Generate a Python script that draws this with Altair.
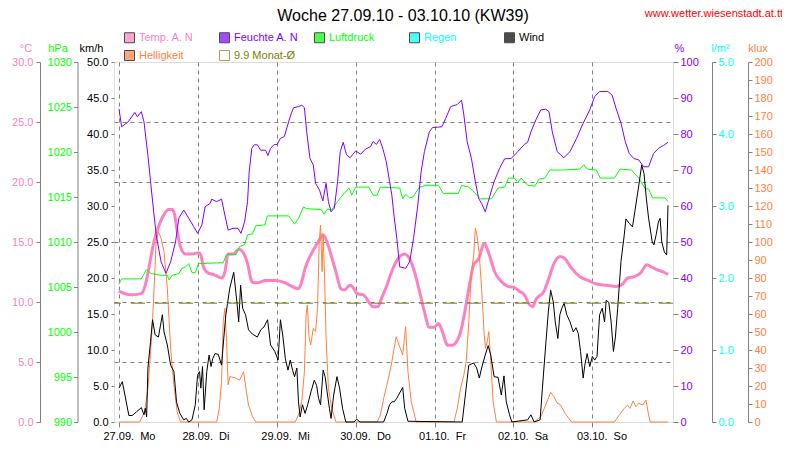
import altair as alt
import pandas as pd

FONT = "Liberation Sans"
GRID = "#808080"

# ---- data: (hours since 27.09.2010 00:00, value) ----
temp = [(0,10.9),(3.3,10.6),(6.8,10.7),(8.0,11.4),(8.8,12.4),(9.8,13.9),(10.8,15.2),(12.2,16.4),(13.7,17.3),(15.2,17.7),(16.2,17.7),(16.9,17.3),(17.7,15.9),(18.7,14.6),(20.2,14.0),(22.2,14.0),(24.2,14.1),(24.9,13.9),(25.7,12.9),(27.2,12.4),(28.7,12.3),(30.2,12.1),(31.2,12.0),(32.2,12.5),(33.2,14.0),(34.7,14.0),(36.5,14.4),(37.6,14.2),(39.1,13.2),(40.4,11.7),(41.1,11.6),(42.1,11.6),(44.6,11.8),(47.6,11.8),(50.6,11.6),(52.6,11.3),(54.6,11.1),(55.6,11.7),(56.6,12.8),(58.1,13.8),(59.5,14.5),(61.0,15.2),(62.0,15.6),(63.3,15.0),(64.5,13.9),(66.0,12.5),(67.5,11.1),(68.5,11.0),(70.3,11.4),(71.5,11.1),(72.3,10.7),(74.3,10.6),(76.0,10.0),(77.3,9.6),(78.7,9.6),(80.0,10.4),(81.5,11.4),(82.5,12.2),(84.0,13.2),(85.4,13.8),(86.9,14.0),(88.4,13.6),(89.9,12.5),(91.4,10.9),(92.9,9.2),(94.4,7.9),(95.9,7.9),(97.2,8.2),(98.4,7.5),(99.9,6.4),(101.4,6.4),(102.9,6.8),(103.9,7.5),(105.2,9.2),(106.4,11.1),(107.9,13.1),(109.4,13.6),(111.1,14.9),(112.3,14.2),(114.3,12.5),(116.3,11.7),(118.3,11.3),(120.3,11.2),(121.8,10.9),(123.3,10.6),(124.8,9.8),(125.8,9.6),(126.8,10.2),(129.3,10.9),(130.8,12.0),(132.3,13.2),(134.2,13.8),(135.7,13.6),(137.7,12.8),(140.2,12.1),(142.7,11.8),(145.2,11.5),(148.2,11.4),(151.2,11.3),(153.2,11.5),(154.7,12.0),(156.6,12.1),(158.6,12.4),(160.6,13.1),(162.1,12.9),(163.6,12.7),(165.6,12.5),(167,12.3)]

humidity = [(0,87),(0.8,82),(2.8,83.4),(4.8,86),(5.6,84.8),(6.8,86.2),(7.6,83.4),(8.8,74),(9.8,65),(11.3,52),(12.8,44.5),(14.3,41.3),(15.7,44.5),(17.2,50),(18.2,56.6),(19.7,58.9),(21.2,56.6),(22.7,54.3),(23.9,52.4),(25.2,54.7),(26.2,59.8),(27.7,60.7),(28.2,61.9),(29.7,61.2),(31.2,61.9),(32.2,57.5),(33.2,53.3),(34.7,53.8),(36.2,53.8),(37.1,52.4),(38.2,55.6),(39.1,61.2),(39.6,69.5),(40.4,76),(41.1,77),(42.1,77),(43.1,75.5),(44.6,75.5),(45.3,74),(46.1,76),(47.1,77),(48.1,77.1),(49.1,78.8),(50.3,79.3),(51.6,83.4),(52.4,85.7),(53.1,87.3),(54.6,87.6),(55.6,88),(56.4,87.3),(57.1,80.6),(58.1,73.2),(59.1,71.4),(59.8,66.3),(61.0,64.4),(62.0,61.4),(63.0,66.3),(63.7,61.2),(64.5,58.4),(65.5,59.4),(66.5,66.8),(67.3,75.1),(68.2,77.7),(69.2,74.2),(70.3,73.4),(72.0,75.3),(73.5,74.4),(75.0,75.8),(76.5,76.5),(77.3,77.9),(78.3,77.1),(79.3,78.5),(80.3,75.8),(81.3,72.3),(82.3,66.8),(83.0,63),(83.7,57),(84.5,51),(85.4,43.1),(87.2,42.7),(88.4,44.5),(89.6,51),(90.9,60.3),(91.9,69.5),(92.9,75.1),(94.4,80.6),(95.4,81.8),(98.2,82),(99.4,84.4),(100.9,87.6),(102.9,88.2),(104.2,89.4),(104.9,85.3),(105.9,77.9),(107.2,73.2),(108.4,66.8),(109.4,62.1),(110.3,60.7),(111.4,58.4),(112.3,61.2),(114.1,66.8),(115.8,70.5),(117.3,73.1),(119.3,73.2),(121.3,75.1),(123.3,77.1),(124.3,77.7),(125.3,80.6),(126.8,83.9),(128.3,86.7),(129.8,86.9),(130.8,86.2),(131.8,80.6),(133.3,75.1),(135.3,73.4),(137.2,75.1),(139.2,78.8),(141.2,83),(143.2,86.7),(144.7,90.4),(146.2,91.8),(148.7,91.8),(150.0,90.8),(151.2,87.1),(152.7,83),(154.0,77.9),(155.2,74.6),(156.6,73.2),(158.1,72.8),(159.6,70.9),(161.1,70.9),(162.6,74.6),(164.1,76),(165.6,76.8),(167,77.7)]

pressure = [(0,1005.3),(0.8,1005.9),(6.8,1005.9),(8.3,1006.9),(9.8,1006.5),(12.8,1006.3),(14.7,1006.3),(15.2,1005.8),(16.2,1006.3),(18.2,1006.5),(19.2,1007.1),(20.2,1007.2),(21.2,1007.6),(22.2,1006.6),(23.2,1006.6),(24.2,1007.6),(31.7,1007.7),(32.7,1008.6),(35.6,1008.6),(36.7,1009.5),(38.2,1009.7),(39.1,1010.8),(40.6,1010.9),(41.6,1011.8),(44.4,1011.9),(45.1,1012.9),(51.6,1012.9),(53.4,1012.0),(54.6,1012.6),(56.1,1013.9),(57.1,1013.7),(61.5,1013.6),(62.4,1013.1),(63.5,1013.7),(64.5,1013.5),(66.5,1014.5),(67.3,1014.9),(68.5,1015.4),(70.0,1016.0),(70.8,1015.2),(72.0,1016.1),(76.0,1016.1),(77.3,1015.2),(78.5,1015.2),(79.5,1016.1),(85.4,1016.0),(86.3,1014.8),(87.2,1015.3),(88.4,1014.9),(89.4,1015.0),(91.4,1016.1),(93.4,1016.3),(97.2,1016.3),(98.6,1015.4),(103.2,1015.4),(104.2,1016.3),(106.4,1016.1),(107.6,1015.7),(109.9,1014.8),(113.3,1014.8),(115.3,1016.0),(117.3,1016.1),(118.5,1017.1),(120.3,1017.1),(121.3,1016.6),(122.3,1017.1),(124.3,1016.3),(126.5,1016.2),(127.8,1017.0),(129.5,1017.1),(131.1,1018.0),(135.3,1018.0),(140.2,1018.1),(141.4,1018.6),(142.4,1018.1),(145.2,1018.0),(146.4,1017.1),(150.7,1017.1),(152.4,1018.1),(155.9,1018.0),(158.1,1017.1),(160.1,1015.9),(161.1,1015.9),(162.3,1014.9),(166.1,1014.9),(167,1014.5)]

wind = [(0,4.7),(1.0,5.6),(1.8,3.75),(3.0,0.9),(4.0,0.9),(5.3,1.4),(6.8,2.0),(7.6,1.0),(8.0,1.9),(8.4,0.7),(8.8,7.5),(9.6,11.2),(10.2,14.2),(11.0,12.1),(12.0,11.8),(12.8,13.9),(13.2,14.9),(13.7,12.5),(14.7,10.7),(15.7,7.9),(16.7,7.0),(17.5,2.8),(18.5,1.2),(19.7,0.3),(20.5,0.5),(21.2,0),(22.2,0.3),(23.2,2.4),(23.9,6.5),(24.5,7.0),(24.9,4.7),(25.4,7.7),(25.9,1.7),(26.7,7.0),(27.4,9.3),(28.0,7.7),(28.5,8.8),(29.2,9.5),(30.2,9.4),(31.2,7.9),(31.7,10.7),(32.5,14.9),(33.7,18.6),(34.9,20.8),(35.9,16.5),(36.4,13.9),(37.0,19.0),(37.6,15.8),(38.5,14.9),(39.4,12.8),(40.6,12.2),(42.1,11.8),(43.1,12.8),(44.1,13.2),(45.2,14.2),(46.1,10.7),(47.4,9.8),(48.4,8.6),(49.1,14.2),(49.8,12.1),(50.6,8.8),(51.4,7.2),(52.1,8.6),(52.8,7.2),(53.4,6.3),(54.1,7.5),(54.6,2.8),(55.1,0.7),(55.8,2.4),(56.6,1.2),(57.4,2.4),(58.4,4.2),(59.4,5.8),(60.1,5.1),(60.7,3.3),(61.3,2.4),(62.1,7.2),(62.7,6.3),(63.3,4.2),(64.0,1.9),(64.5,0.5),(65.3,3.75),(66.3,6.3),(67.1,4.7),(68.0,1.9),(69.0,0),(71.5,0),(72.3,0.4),(73.3,0),(80.5,0),(81.5,1.2),(82.3,2.4),(83.0,2.8),(83.7,2.8),(84.5,3.3),(86.3,4.8),(86.9,1.9),(87.9,0.1),(104.4,0),(105.6,4.7),(106.4,7.9),(107.9,8.2),(108.8,7.5),(109.6,6.1),(110.3,7.5),(111.4,9.3),(112.3,10.6),(113.1,9.3),(114.1,6.3),(115.3,6.2),(116.3,3.75),(117.1,6.4),(117.8,2.8),(118.8,1.0),(119.5,0),(124.3,0.3),(125.3,1.0),(126.3,0),(128.1,0.3),(128.8,4.7),(129.8,10.7),(130.6,15.3),(131.3,18.3),(132.1,16.7),(132.7,13.9),(133.5,11.6),(134.1,14.9),(134.7,15.8),(135.4,16.5),(136.2,14.9),(137.2,13.9),(138.2,12.5),(139.0,13.1),(139.7,12.3),(140.4,9.8),(141.2,6.1),(141.7,7.9),(142.4,9.5),(143.2,7.7),(144.0,9.1),(144.7,8.6),(145.4,9.1),(146.2,14.9),(147.0,15.8),(147.7,13.9),(148.2,16.9),(149.0,16.6),(149.7,13.9),(150.4,9.8),(151.0,11.8),(151.7,15.8),(152.7,22.3),(153.7,26.0),(154.2,28.2),(155.2,27.6),(156.2,27.1),(156.9,29.2),(158.0,32.5),(159.0,35.7),(159.7,34.5),(160.4,31.1),(161.1,28.3),(162.2,25.0),(162.7,24.6),(163.4,26.0),(164.1,27.8),(164.6,28.3),(165.1,25.0),(165.9,23.6),(166.6,23.2),(167,30.1)]

light = [(0,0),(6.3,0),(7.8,5.7),(8.8,18.7),(9.9,46.5),(10.5,66.8),(11.3,100.2),(12.0,105.7),(12.8,102),(13.7,94.6),(14.7,74.3),(15.7,41),(16.7,20.6),(17.7,5.7),(18.7,0),(29.7,0),(30.5,7.6),(31.2,22.4),(31.7,55.7),(32.2,63.2),(32.7,46.5),(33.2,20.6),(33.7,25.2),(35.2,24.6),(36.7,23.3),(37.9,27.9),(38.6,18.7),(39.4,9.4),(40.6,3.0),(41.6,0),(53.6,0),(54.6,3.9),(55.6,11.3),(56.4,27.9),(56.9,59.4),(57.3,65),(57.8,47.4),(58.3,42.8),(59.1,52),(59.8,50.2),(60.4,63.2),(60.9,100.2),(61.3,109.4),(61.8,83.5),(62.1,103.9),(62.5,83.5),(63.0,46.5),(63.7,18.7),(64.7,7.6),(66.0,0),(78.5,0),(79.5,3.9),(80.5,13.1),(81.5,20.6),(82.5,28.9),(83.0,33.5),(84.3,47.4),(85.2,42.8),(86.3,37.2),(87.2,52.9),(87.9,27.9),(88.9,11.3),(90.4,0),(101.9,0),(102.9,7.6),(103.9,18.7),(104.9,26.1),(105.6,33.5),(106.4,55.7),(107.2,83.5),(107.9,92.8),(108.4,107.6),(108.9,103.9),(109.6,92.8),(110.3,74.3),(111.1,48.3),(111.5,41),(112.0,44.6),(112.5,50.2),(113.1,33.5),(113.8,11.3),(114.8,0),(126.3,0),(128.3,3),(129.8,9.4),(131.3,16.5),(132.3,14.1),(133.3,10.4),(134.2,9.8),(135.7,4.8),(137.7,0),(150.7,0),(152.2,3.9),(153.7,7.6),(154.7,9.4),(155.4,7.6),(156.4,11.7),(157.2,8.5),(158.1,10.4),(159.3,9.4),(160.3,12.2),(161.1,3.9),(161.6,0),(167,0)]

rain = [(0,0),(24,0),(48,0),(72,0),(96,0),(120,0),(144,0)]   # no rain this week
month_avg_temp = 9.9

day_ticks = [0, 24, 48, 72, 96, 120, 144]
day_labels = ["27.09.  Mo", "28.09.  Di", "29.09.  Mi", "30.09.  Do",
              "01.10.  Fr", "02.10.  Sa", "03.10.  So"]
legend_items = ["Temp. A. N", "Feuchte A. N", "Luftdruck", "Regen", "Wind",
                "Helligkeit", "9.9 Monat-\u00d8"]
legend_colors = ["#ff80c0", "#8000ff", "#00ff00", "#00ffff", "#000000", "#ff8040", "#808000"]
title_text = "Woche 27.09.10 - 03.10.10 (KW39)"
url_text = "www.wetter.wiesenstadt.at.tt"

C_TEMP, C_HUM, C_PRES, C_RAIN, C_WIND, C_LIGHT, C_AVG = legend_colors

def df(pairs):
    return pd.DataFrame(pairs, columns=["h", "v"])

labels_nb = [s.replace(" ", "\u00a0") for s in day_labels]
label_expr = "[" + ",".join("'%s'" % s for s in labels_nb) + "][round(datum.value / 24)]"

X = alt.X("h:Q", scale=alt.Scale(domain=[0, 167], nice=False, zero=False),
          axis=alt.Axis(values=day_ticks, labelExpr=label_expr, title=None, grid=True,
                        gridDash=[4, 4], gridColor=GRID, gridOpacity=1, tickSize=5, tickColor=GRID,
                        domain=False, labelAlign="left", labelOffset=-16, labelPadding=3,
                        labelFont=FONT, labelFontSize=11, labelColor="black",
                        labelFlush=False, labelOverlap=False, labelBound=False))

def yaxis(title, color, orient, offset, values, fmt, title_x, tick=4, pad=3, domain=True):
    return alt.Axis(title=title, orient=orient, offset=offset, values=values, format=fmt,
                    labelColor=color, titleColor=color, titleAngle=0, titleX=title_x, titleY=-11,
                    titleAlign="center", titleBaseline="alphabetic", titleFontWeight="normal",
                    titleFontSize=11, titleFont=FONT, labelFont=FONT, labelFontSize=11,
                    tickSize=tick, labelPadding=pad, tickColor=GRID, domain=domain,
                    domainColor=GRID, domainWidth=1, grid=False, labelFlush=False,
                    labelOverlap=False, labelBound=False)

def sc(lo, hi):
    return alt.Scale(domain=[lo, hi], nice=False, zero=False)

temp_layer = alt.Chart(df(temp)).mark_line(color=C_TEMP, strokeWidth=3, interpolate="monotone").encode(
    x=X, y=alt.Y("v:Q", scale=sc(0, 30),
                 axis=yaxis("\u00b0C", C_TEMP, "left", 74, [0, 5, 10, 15, 20, 25, 30], ".1f", -14.5)))

pres_layer = alt.Chart(df(pressure)).mark_line(color=C_PRES, strokeWidth=1).encode(
    x=X, y=alt.Y("v:Q", scale=sc(990, 1030),
                 axis=yaxis("hPa", C_PRES, "left", 36.5, list(range(990, 1031, 5)), "d", -20, pad=2)))

light_layer = alt.Chart(df(light)).mark_line(color=C_LIGHT, strokeWidth=1).encode(
    x=X, y=alt.Y("v:Q", scale=sc(0, 200),
                 axis=yaxis("klux", C_LIGHT, "right", 75, list(range(0, 201, 10)), "d", 9.5, pad=2)))

rain_layer = alt.Chart(df(rain)).mark_bar(color=C_RAIN).encode(
    x=X, y=alt.Y("v:Q", scale=sc(0, 5),
                 axis=yaxis("l/m\u00b2", C_RAIN, "right", 39, [0, 1, 2, 3, 4, 5], ".1f", 8, pad=2)))

hum_layer = alt.Chart(df(humidity)).mark_line(color=C_HUM, strokeWidth=1).encode(
    x=X, y=alt.Y("v:Q", scale=sc(0, 100),
                 axis=yaxis("%", C_HUM, "right", 0, list(range(0, 101, 10)), "d", 6,
                            tick=5, pad=2, domain=False)))

wind_layer = alt.Chart(df(wind)).mark_line(color=C_WIND, strokeWidth=1).encode(
    x=X, y=alt.Y("v:Q", scale=sc(0, 50),
                 axis=yaxis("km/h", "black", "left", 0, list(range(0, 51, 5)), ".1f", -23,
                            tick=3, pad=3, domain=False)))

avg_layer = alt.Chart(pd.DataFrame({"v": [month_avg_temp]})).mark_rule(
    color=C_AVG, strokeWidth=1, strokeDash=[14, 10]).encode(
    y=alt.Y("v:Q", scale=sc(0, 30),
            axis=alt.Axis(orient="left", offset=0, grid=True, gridDash=[4, 4], gridColor=GRID,
                          gridOpacity=1, labels=False, ticks=False, domain=False, title=None,
                          values=[5, 10, 15, 20, 25])))

label_color_expr = ("[" + ",".join("'%s'" % c for c in legend_colors) + "][indexof(["
                    + ",".join("'%s'" % s for s in legend_items) + "], datum.label)]")
leg = alt.Legend(title=None, orient="none", legendX=10, legendY=-30, columns=5, gridAlign="all",
                 direction="horizontal",
                 columnPadding=13, rowPadding=3, symbolType="square", symbolSize=100,
                 symbolStrokeWidth=1, labelFont=FONT, labelFontSize=11, labelOffset=4,
                 labelColor=alt.ExprRef(label_color_expr), labelLimit=200)
fill_range = legend_colors[:-1] + ["transparent"]
stroke_range = ["#000000"] * 6 + [C_AVG]
legend_layer = alt.Chart(pd.DataFrame({"item": legend_items})).transform_filter("false").mark_square(
    filled=True).encode(
    fill=alt.Fill("item:N", scale=alt.Scale(domain=legend_items, range=fill_range), legend=leg),
    stroke=alt.Stroke("item:N", scale=alt.Scale(domain=legend_items, range=stroke_range), legend=leg))

# header texts (chart title and site address)
header = pd.DataFrame({"t": [title_text, url_text]})
title_layer = alt.Chart(header).transform_filter(alt.datum.t == title_text).mark_text(
    align="center", baseline="alphabetic", color="black", font=FONT, fontSize=16).encode(
    x=alt.value(289), y=alt.value(-41), text="t:N")
url_layer = alt.Chart(header).transform_filter(alt.datum.t == url_text).mark_text(
    align="right", baseline="alphabetic", color="#ff0000", font=FONT, fontSize=11).encode(
    x=alt.value(669), y=alt.value(-45), text="t:N")

chart = alt.layer(
    temp_layer, light_layer, rain_layer, pres_layer, hum_layer, wind_layer, avg_layer,
    legend_layer, title_layer, url_layer
).resolve_scale(y="independent").properties(
    width=559, height=360,
    autosize=alt.AutoSizeParams(type="none"),
    padding={"left": 106, "top": 54, "right": 109, "bottom": 30},
).configure_view(stroke=GRID, strokeWidth=3).configure(background="white")

chart.save("out.html", embed_options={"renderer": "svg", "actions": False})
